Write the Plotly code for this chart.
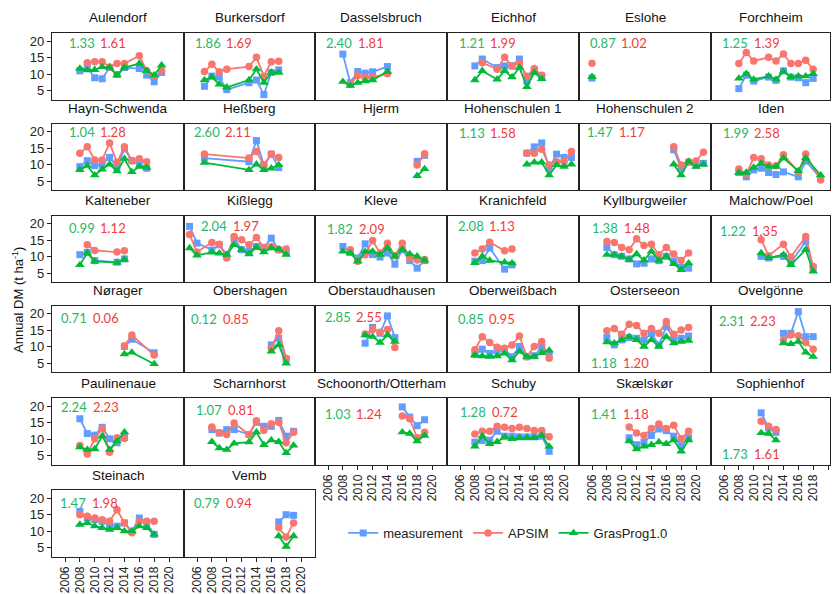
import plotly.graph_objects as go

# ---------------------------------------------------------------- data
sites = [
    "Aulendorf", "Burkersdorf", "Dasselsbruch", "Eichhof", "Eslohe", "Forchheim",
    "Hayn-Schwenda", "Heßberg", "Hjerm", "Hohenschulen 1", "Hohenschulen 2", "Iden",
    "Kalteneber", "Kißlegg", "Kleve", "Kranichfeld", "Kyllburgweiler", "Malchow/Poel",
    "Nørager", "Obershagen", "Oberstaudhausen", "Oberweißbach", "Osterseeon", "Ovelgönne",
    "Paulinenaue", "Scharnhorst", "Schoonorth/Otterham", "Schuby", "Skælskør", "Sophienhof",
    "Steinach", "Vemb",
]

years = {
    "Aulendorf": [2008, 2009, 2010, 2011, 2012, 2013, 2014, 2016, 2017, 2018, 2019],
    "Burkersdorf": [2007, 2008, 2009, 2010, 2013, 2014, 2015, 2016, 2017],
    "Dasselsbruch": [2008, 2009, 2010, 2011, 2012, 2014],
    "Eichhof": [2008, 2009, 2011, 2012, 2013, 2014, 2015, 2016, 2017],
    "Eslohe": [2006],
    "Forchheim": [2008, 2009, 2010, 2012, 2013, 2014, 2015, 2016, 2017, 2018],
    "Hayn-Schwenda": [2008, 2009, 2010, 2011, 2012, 2013, 2014, 2015, 2016, 2017],
    "Heßberg": [2007, 2013, 2014, 2015, 2016, 2017],
    "Hjerm": [2018, 2019],
    "Hohenschulen 1": [2015, 2016, 2017, 2018, 2019, 2020, 2021],
    "Hohenschulen 2": [2017, 2018, 2019, 2020, 2021],
    "Iden": [2008, 2009, 2010, 2011, 2012, 2013, 2014, 2016, 2017, 2019],
    "Kalteneber": [2008, 2009, 2010, 2013, 2014],
    "Kißlegg": [2005, 2006, 2008, 2009, 2010, 2011, 2012, 2013, 2014, 2015, 2016, 2017, 2018],
    "Kleve": [2008, 2009, 2010, 2011, 2012, 2013, 2014, 2015, 2016, 2017, 2018, 2019],
    "Kranichfeld": [2008, 2009, 2010, 2012, 2013],
    "Kyllburgweiler": [2008, 2009, 2010, 2011, 2012, 2013, 2014, 2015, 2016, 2017, 2018, 2019],
    "Malchow/Poel": [2011, 2012, 2014, 2015, 2017, 2018],
    "Nørager": [2014, 2015, 2018],
    "Obershagen": [2016, 2017, 2018],
    "Oberstaudhausen": [2011, 2012, 2013, 2014, 2015],
    "Oberweißbach": [2008, 2009, 2010, 2011, 2012, 2013, 2014, 2015, 2016, 2017, 2018],
    "Osterseeon": [2008, 2009, 2010, 2011, 2012, 2013, 2014, 2015, 2016, 2017, 2018, 2019],
    "Ovelgönne": [2014, 2015, 2016, 2017, 2018],
    "Paulinenaue": [2008, 2009, 2010, 2011, 2012, 2013, 2014],
    "Scharnhorst": [2008, 2009, 2010, 2011, 2013, 2014, 2015, 2016, 2017, 2018, 2019],
    "Schoonorth/Otterham": [2016, 2017, 2018, 2019],
    "Schuby": [2008, 2009, 2010, 2011, 2012, 2013, 2014, 2015, 2016, 2017, 2018],
    "Skælskør": [2011, 2012, 2013, 2014, 2015, 2016, 2017, 2018, 2019],
    "Sophienhof": [2011, 2012, 2013],
    "Steinach": [2008, 2009, 2010, 2011, 2012, 2013, 2014, 2015, 2016, 2017, 2018],
    "Vemb": [2017, 2018, 2019],
}

# measured annual dry matter (t/ha)
measurement = {
    "Aulendorf": [11.0, 12.0, 8.9, 8.6, 12.0, 9.9, 12.0, 11.7, 9.7, 7.7, 10.5],
    "Burkersdorf": [6.3, 9.4, 9.1, 5.3, 7.4, 8.2, 3.8, 10.5, 11.3],
    "Dasselsbruch": [16.1, 7.4, 10.8, 10.3, 10.7, 12.3],
    "Eichhof": [12.5, 14.6, 12.0, 12.5, 12.5, 14.6, 7.9, 10.9, 9.4],
    "Eslohe": [8.8],
    "Forchheim": [5.6, 9.7, 7.9, 9.1, 8.1, 11.0, 9.1, 8.9, 7.4, 8.7],
    "Hayn-Schwenda": [9.4, 11.2, 9.7, 10.1, 12.2, 9.2, 14.8, 11.2, 10.1, 8.9],
    "Heßberg": [12.0, 10.9, 17.3, 9.9, 13.2, 9.1],
    "Hjerm": [11.0, 12.8],
    "Hohenschulen 1": [13.5, 15.4, 16.6, 8.9, 13.2, 12.2, 12.2],
    "Hohenschulen 2": [14.5, 8.9, 10.7, 9.9, 10.4],
    "Iden": [7.6, 6.3, 8.4, 8.9, 7.6, 7.0, 7.8, 6.3, 11.1, 5.8],
    "Kalteneber": [10.6, 11.3, 8.8, 8.3, 9.3],
    "Kißlegg": [19.2, 14.1, 12.0, 13.6, 10.6, 15.6, 12.1, 11.6, 13.1, 12.8, 15.6, 12.1, 11.3],
    "Kleve": [13.1, 11.3, 9.6, 13.9, 10.6, 9.9, 11.1, 7.7, 12.1, 8.8, 6.5, 8.8],
    "Kranichfeld": [8.6, 8.8, 12.6, 6.2, 7.5],
    "Kyllburgweiler": [12.8, 10.6, 10.1, 9.3, 7.8, 8.0, 9.3, 8.8, 10.1, 8.6, 6.7, 6.5],
    "Malchow/Poel": [10.1, 9.6, 10.1, 8.2, 14.6, 6.5],
    "Nørager": [10.1, 12.3, 8.2],
    "Obershagen": [10.6, 12.6, 6.2],
    "Oberstaudhausen": [11.1, 15.9, 14.1, 19.4, 12.8],
    "Oberweißbach": [7.7, 9.3, 8.0, 8.8, 9.3, 7.0, 10.1, 7.0, 7.3, 9.9, 7.5],
    "Osterseeon": [12.8, 10.6, 12.1, 12.8, 12.6, 12.1, 14.1, 10.6, 16.1, 12.6, 12.6, 13.3],
    "Ovelgönne": [14.1, 14.1, 20.7, 13.1, 13.1],
    "Paulinenaue": [16.2, 11.7, 11.2, 13.6, 10.1, 8.9, 10.6],
    "Scharnhorst": [12.9, 11.9, 12.9, 12.9, 11.4, 15.1, 13.9, 13.9, 15.7, 10.9, 12.4],
    "Schoonorth/Otterham": [19.8, 16.7, 14.1, 15.9],
    "Schuby": [9.1, 9.6, 9.7, 12.4, 10.9, 10.9, 10.7, 10.7, 10.7, 10.9, 6.3],
    "Skælskør": [10.4, 8.3, 9.1, 11.1, 13.1, 12.6, 10.9, 8.0, 10.4],
    "Sophienhof": [18.0, 13.4, 12.1],
    "Steinach": [16.0, 14.0, 13.5, 13.0, 12.0, 11.5, 12.5, 10.0, 14.0, 12.5, 9.0],
    "Vemb": [12.8, 15.0, 14.8],
}

# APSIM simulated annual dry matter (t/ha)
apsim = {
    "Aulendorf": [None, 13.5, 13.8, 13.8, 12.2, 13.2, 13.2, 15.6, 11.0, 9.4, 11.0],
    "Burkersdorf": [10.8, 13.0, 10.7, 11.5, 12.3, 15.1, 9.4, 13.8, 13.9],
    "Dasselsbruch": [None, 6.9, 9.6, 8.9, 9.1, 10.1],
    "Eichhof": [None, 13.5, 11.5, 15.1, 12.5, 13.5, 9.4, 11.7, 9.7],
    "Eslohe": [13.3],
    "Forchheim": [13.2, 16.6, 14.0, 15.1, 14.0, 16.1, 13.2, 13.2, 14.2, 11.5],
    "Hayn-Schwenda": [13.5, 15.4, 11.4, 11.4, 16.6, 10.7, 15.4, 11.2, 11.8, 10.9],
    "Heßberg": [13.2, 12.0, 14.0, 9.9, 13.2, 12.2],
    "Hjerm": [9.9, 13.3],
    "Hohenschulen 1": [13.5, 13.5, 14.7, 9.9, 10.9, 10.9, 14.0],
    "Hohenschulen 2": [15.4, 9.9, 10.9, 11.1, 13.8],
    "Iden": [8.7, 7.0, 12.2, 11.8, 9.9, 9.7, 13.0, 7.8, 13.2, 5.3],
    "Kalteneber": [None, 13.6, 11.9, 11.4, 11.8],
    "Kißlegg": [16.7, 11.4, 14.3, 13.8, 9.6, 16.1, 15.1, 13.6, 15.8, 12.8, 13.1, 12.1, 12.3],
    "Kleve": [None, 12.1, 8.6, 10.6, 14.9, 11.1, 14.1, 10.3, 14.1, 9.6, 9.0, 9.1],
    "Kranichfeld": [11.1, 12.3, 14.4, 11.8, 12.3],
    "Kyllburgweiler": [14.6, 14.3, 12.8, 12.1, 15.4, 13.4, 13.8, 10.6, 12.8, 10.8, 8.8, 11.1],
    "Malchow/Poel": [15.1, 10.3, 13.8, 9.9, 16.1, 7.0],
    "Nørager": [10.3, 13.6, 7.5],
    "Obershagen": [9.6, 14.9, 6.5],
    "Oberstaudhausen": [13.9, 15.3, 14.4, 15.3, 9.8],
    "Oberweißbach": [9.1, 13.1, 11.3, 9.9, 9.6, 10.6, 13.3, 7.0, 10.1, 11.6, 6.5],
    "Osterseeon": [14.9, 15.6, 13.8, 16.9, 16.5, 14.1, 15.6, 14.1, 17.7, 13.8, 15.1, 15.9],
    "Ovelgönne": [12.1, 13.6, 13.4, 11.3, 9.3],
    "Paulinenaue": [8.1, 5.5, 10.1, 13.2, 6.0, 10.4, 10.2],
    "Scharnhorst": [13.7, 11.9, 11.4, 14.9, 11.4, 15.6, 12.7, 14.7, 15.1, 8.9, 12.1],
    "Schoonorth/Otterham": [17.0, 16.2, 10.4, 12.1],
    "Schuby": [11.6, 12.4, 12.4, 13.9, 13.6, 13.2, 13.6, 13.2, 12.6, 12.6, 10.7],
    "Skælskør": [13.7, 11.9, 11.1, 13.2, 14.6, 13.2, 14.2, 10.1, 12.4],
    "Sophienhof": [15.4, 13.9, 12.9],
    "Steinach": [15.0, 14.5, 14.0, 13.5, 13.0, 16.5, 12.5, 9.5, 13.0, 13.0, 13.0],
    "Vemb": [11.0, 8.2, 12.5],
}

# GrasProg1.0 simulated annual dry matter (t/ha)
grasprog = {
    "Aulendorf": [11.7, 11.2, 11.3, 12.2, 12.0, 9.7, 12.0, 13.2, 11.0, 9.7, 12.7],
    "Burkersdorf": [8.2, 9.1, 6.9, 6.0, 8.2, 11.5, 7.4, 10.5, 10.5],
    "Dasselsbruch": [7.7, 6.5, 7.4, 7.9, 8.2, 10.8],
    "Eichhof": [8.2, 11.0, 8.4, 11.0, 9.1, 12.0, 6.1, 10.5, 8.6],
    "Eslohe": [9.2],
    "Forchheim": [8.7, 10.1, 8.4, 9.4, 8.4, 10.8, 9.1, 9.4, 9.4, 10.1],
    "Hayn-Schwenda": [8.4, 9.7, 6.8, 8.6, 10.1, 8.0, 11.8, 7.8, 9.4, 9.1],
    "Heßberg": [10.6, 8.4, 10.1, 8.4, 8.9, 9.9],
    "Hjerm": [6.6, 8.7],
    "Hohenschulen 1": [10.1, 10.7, 10.7, 6.8, 9.9, 9.4, 10.1],
    "Hohenschulen 2": [10.1, 6.8, 10.9, 9.4, 10.1],
    "Iden": [7.6, 7.6, 9.1, 10.4, 9.4, 9.4, 12.0, 8.1, 12.0, 6.8],
    "Kalteneber": [7.5, 11.1, 8.6, 8.2, 9.1],
    "Kißlegg": [12.6, 10.4, 11.3, 11.0, 10.6, 13.6, 12.1, 10.8, 12.8, 11.4, 12.6, 12.3, 10.6],
    "Kleve": [11.6, 11.1, 8.6, 11.5, 11.6, 10.6, 12.6, 10.1, 12.1, 10.8, 10.1, 8.9],
    "Kranichfeld": [8.1, 10.1, 8.8, 8.3, 8.0],
    "Kyllburgweiler": [10.6, 10.6, 10.1, 9.1, 10.8, 8.9, 11.6, 8.8, 10.1, 7.8, 6.0, 8.0],
    "Malchow/Poel": [11.1, 9.6, 10.6, 7.5, 12.1, 5.5],
    "Nørager": [7.8, 8.3, 4.8],
    "Obershagen": [8.6, 10.6, 5.0],
    "Oberstaudhausen": [13.6, 13.1, 11.3, 13.6, 11.6],
    "Oberweißbach": [7.5, 7.2, 7.0, 7.2, 8.0, 6.0, 8.6, 7.0, 7.0, 8.2, 8.9],
    "Osterseeon": [11.4, 11.1, 12.1, 13.1, 12.1, 10.1, 12.1, 10.1, 13.1, 11.1, 11.6, 11.9],
    "Ovelgönne": [11.1, 10.9, 11.6, 8.3, 7.0],
    "Paulinenaue": [7.6, 6.8, 7.0, 10.9, 6.8, 9.4, 12.1],
    "Scharnhorst": [9.2, 7.3, 6.8, 8.7, 9.1, 12.1, 8.3, 9.7, 9.2, 5.8, 8.1],
    "Schoonorth/Otterham": [12.1, 11.7, 9.4, 11.1],
    "Schuby": [7.8, 10.9, 8.6, 9.2, 10.6, 10.1, 10.4, 10.4, 10.4, 11.1, 7.8],
    "Skælskør": [9.4, 7.0, 7.8, 8.3, 9.1, 8.6, 9.7, 6.3, 9.7],
    "Sophienhof": [11.9, 11.7, 9.7],
    "Steinach": [12.0, 12.5, 11.5, 11.0, 10.5, 11.0, 10.0, 10.0, 11.5, 11.0, 9.0],
    "Vemb": [8.5, 5.3, 8.5],
}

# per-site error statistics printed in each panel (GrasProg1.0, APSIM)
stat_grasprog = {
    "Aulendorf": "1.33", "Burkersdorf": "1.86", "Dasselsbruch": "2.40", "Eichhof": "1.21",
    "Eslohe": "0.87", "Forchheim": "1.25", "Hayn-Schwenda": "1.04", "Heßberg": "2.60",
    "Hohenschulen 1": "1.13", "Hohenschulen 2": "1.47", "Iden": "1.99", "Kalteneber": "0.99",
    "Kißlegg": "2.04", "Kleve": "1.82", "Kranichfeld": "2.08", "Kyllburgweiler": "1.38",
    "Malchow/Poel": "1.22", "Nørager": "0.71", "Obershagen": "0.12", "Oberstaudhausen": "2.85",
    "Oberweißbach": "0.85", "Osterseeon": "1.18", "Ovelgönne": "2.31", "Paulinenaue": "2.24",
    "Scharnhorst": "1.07", "Schoonorth/Otterham": "1.03", "Schuby": "1.28", "Skælskør": "1.41",
    "Sophienhof": "1.73", "Steinach": "1.47", "Vemb": "0.79",
}
stat_apsim = {
    "Aulendorf": "1.61", "Burkersdorf": "1.69", "Dasselsbruch": "1.81", "Eichhof": "1.99",
    "Eslohe": "1.02", "Forchheim": "1.39", "Hayn-Schwenda": "1.28", "Heßberg": "2.11",
    "Hohenschulen 1": "1.58", "Hohenschulen 2": "1.17", "Iden": "2.58", "Kalteneber": "1.12",
    "Kißlegg": "1.97", "Kleve": "2.09", "Kranichfeld": "1.13", "Kyllburgweiler": "1.48",
    "Malchow/Poel": "1.35", "Nørager": "0.06", "Obershagen": "0.85", "Oberstaudhausen": "2.55",
    "Oberweißbach": "0.95", "Osterseeon": "1.20", "Ovelgönne": "2.23", "Paulinenaue": "2.23",
    "Scharnhorst": "0.81", "Schoonorth/Otterham": "1.24", "Schuby": "0.72", "Skælskør": "1.18",
    "Sophienhof": "1.61", "Steinach": "1.98", "Vemb": "0.94",
}

# ---------------------------------------------------------------- styling / layout
W, H = 833, 594
COL_LEFT = [52, 184, 315, 447, 579, 711]
COL_RIGHT = [184, 315, 447, 579, 711, 830]
ROW_TOP = [33, 123.5, 215.5, 305.7, 398, 490]
PANEL_H = 66.5
PX_PER_YEAR = 7.43
X_START = 2004.25
Y_RANGE = [2.3, 22.5]

# where the two statistics sit in a panel: (px from panel left, y value)
stat_pos = {
    "Aulendorf": (14.7, 19.4), "Burkersdorf": (8.7, 19.4), "Dasselsbruch": (9.3, 19.4),
    "Eichhof": (9.7, 19.4), "Eslohe": (8.7, 19.5), "Forchheim": (9.0, 19.4),
    "Hayn-Schwenda": (14.7, 19.8), "Heßberg": (7.7, 19.8), "Hohenschulen 1": (9.7, 19.7),
    "Hohenschulen 2": (6.0, 19.8), "Iden": (9.7, 19.7), "Kalteneber": (14.7, 18.7),
    "Kißlegg": (15.3, 19.4), "Kleve": (10.0, 18.4), "Kranichfeld": (9.0, 19.4),
    "Kyllburgweiler": (11.0, 18.7), "Malchow/Poel": (7.3, 17.7), "Nørager": (7.3, 18.7),
    "Obershagen": (5.3, 18.4), "Oberstaudhausen": (7.7, 19.2), "Oberweißbach": (9.0, 18.4),
    "Osterseeon": (10.3, 5.2), "Ovelgönne": (5.7, 18.0), "Paulinenaue": (7.3, 19.7),
    "Scharnhorst": (10.0, 19.0), "Schoonorth/Otterham": (7.7, 17.7), "Schuby": (11.3, 18.2),
    "Skælskør": (10.3, 17.7), "Sophienhof": (9.0, 5.6), "Steinach": (6.0, 18.6),
    "Vemb": (8.0, 18.6),
}

C_MEAS, C_APSIM, C_GRAS = "#619CFF", "#F8766D", "#00BA38"
T_GRAS, T_APSIM = "#27B768", "#F03B3B"
AXIS_FONT = dict(family="Liberation Sans, Arial, sans-serif", size=13, color="#222222")
STAT_FONT = "Lato, Carlito, sans-serif"

series = [
    ("measurement", measurement, C_MEAS, "square", 7),
    ("APSIM", apsim, C_APSIM, "circle", 7.5),
    ("GrasProg1.0", grasprog, C_GRAS, "triangle-up", 8.5),
]

bottom_panels = {26, 27, 28, 29, 30, 31}

fig = go.Figure()
layout = dict(
    width=W, height=H, autosize=False,
    margin=dict(l=0, r=0, t=0, b=0),
    paper_bgcolor="white", plot_bgcolor="white",
    showlegend=True,
    legend=dict(orientation="h", x=0.412, y=1 - 533 / H, xanchor="left", yanchor="middle",
                font=dict(family="Liberation Sans, Arial, sans-serif", size=13, color="#222"),
                bgcolor="rgba(0,0,0,0)", itemwidth=30, tracegroupgap=0),
    annotations=[],
)

for i, site in enumerate(sites):
    r, c = divmod(i, 6)
    n = i + 1
    xs = "" if n == 1 else str(n)
    L, R = COL_LEFT[c], COL_RIGHT[c]
    top = ROW_TOP[r]
    bot = top + PANEL_H
    x_rng = [X_START, X_START + (R - L) / PX_PER_YEAR]
    is_bottom = i in bottom_panels

    layout["xaxis" + xs] = dict(
        domain=[L / W, R / W], range=x_rng, anchor="y" + xs,
        showgrid=False, zeroline=False,
        showline=True, mirror=True, linecolor="#222", linewidth=1.3,
        tickmode="array", tickvals=list(range(2006, 2021, 2)),
        ticks="outside" if is_bottom else "", ticklen=4, tickwidth=1.2, tickcolor="#222",
        showticklabels=is_bottom, tickangle=-90, tickfont=dict(AXIS_FONT, size=12),
    )
    layout["yaxis" + xs] = dict(
        domain=[1 - bot / H, 1 - top / H], range=Y_RANGE, anchor="x" + xs,
        showgrid=False, zeroline=False,
        showline=True, mirror=True, linecolor="#222", linewidth=1.3,
        tickmode="array", tickvals=[5, 10, 15, 20],
        ticks="outside" if c == 0 else "", ticklen=4, tickwidth=1.2, tickcolor="#222",
        showticklabels=(c == 0), tickfont=AXIS_FONT,
    )

    for name, data, color, symbol, size in series:
        fig.add_trace(go.Scatter(
            x=years[site], y=data[site], mode="lines+markers",
            name=name, legendgroup=name, showlegend=(i == 0),
            line=dict(color=color, width=1.8),
            marker=dict(color=color, symbol=symbol, size=size, line=dict(width=0)),
            xaxis="x" + xs, yaxis="y" + xs, cliponaxis=False,
        ))

    # panel title
    layout["annotations"].append(dict(
        text=site, xref="paper", yref="paper",
        x=(L + R) / 2 / W, y=1 - (top - 15) / H, xanchor="center", yanchor="middle",
        showarrow=False, font=dict(family="Liberation Sans, Arial, sans-serif", size=13.5, color="#111"),
    ))

    if site in stat_grasprog:
        dx, yv = stat_pos[site]
        for txt, off, col in ((stat_grasprog[site], dx, T_GRAS), (stat_apsim[site], dx + 31.5, T_APSIM)):
            layout["annotations"].append(dict(
                text=txt, xref="x" + xs + " domain", yref="y" + xs,
                x=off / (R - L), y=yv, xanchor="left", yanchor="middle",
                showarrow=False, font=dict(family=STAT_FONT, size=13, color=col),
            ))

# shared y-axis title
layout["annotations"].append(dict(
    text="Annual DM (t ha<sup>-1</sup>)", xref="paper", yref="paper",
    x=18 / W, y=1 - 300 / H, xanchor="center", yanchor="middle", textangle=-90,
    showarrow=False, font=dict(family="Liberation Sans, Arial, sans-serif", size=13, color="#111"),
))

fig.update_layout(**layout)
fig.write_html("out.html")
